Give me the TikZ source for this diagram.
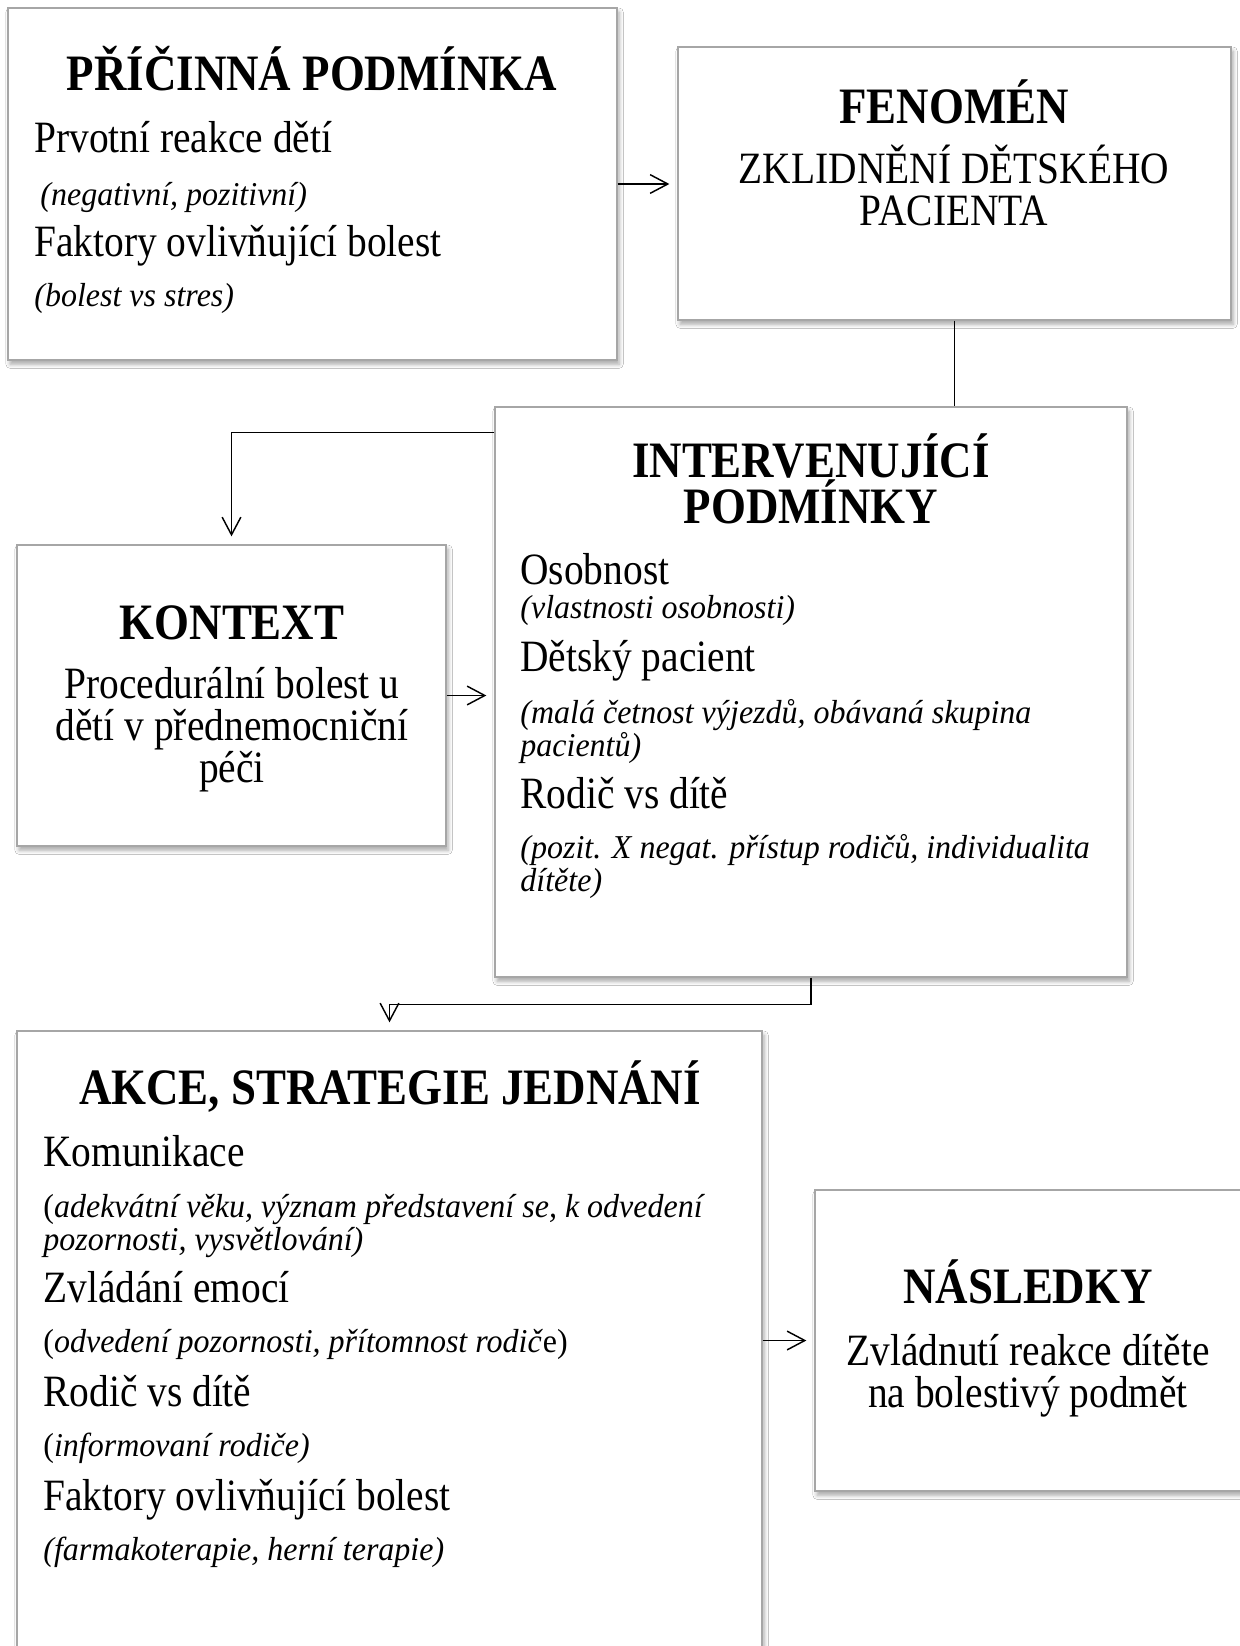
\documentclass[tikz,border=0pt]{standalone}
\usepackage{fontspec}
\setmainfont{Liberation Serif}[FakeStretch=0.88]
\newfontfamily\notefont{Liberation Serif}[FakeStretch=0.96]
\usetikzlibrary{arrows.meta,fit,shadows.blur}

\begin{document}
\begin{tikzpicture}[x=0.48pt, y=-0.48pt,
  box/.style={draw=gray!70, line width=0.7pt, fill=white, inner sep=0pt,
    blur shadow={shadow xshift=1pt, shadow yshift=-2pt, shadow blur radius=2pt, shadow opacity=35}},
  head/.style={font=\bfseries\fontsize{24.5}{26}\selectfont, inner sep=0pt, anchor=base},
  line/.style={font=\fontsize{21.5}{23}\selectfont, inner sep=0pt},
  note/.style={font=\notefont\itshape\fontsize{16}{17}\selectfont, inner sep=0pt, anchor=base west},
  arr/.style={-{Straight Barb[length=8.5pt, width=9pt]}, line width=0.7pt, shorten >=3.8pt}]
\useasboundingbox[fill=white] (0,0) rectangle (1240,1646);
% boxes
\node[box, fit={(8,8) (617,360)}] (b1) {};
\node[box, fit={(678,47) (1231,320)}] (b2) {};
\node[box, fit={(495,407) (1127,977)}] (b3) {};
\node[box, fit={(17,545) (446,846)}] (b4) {};
\node[box, fit={(17,1031) (762,1664)}] (b5) {};
\node[box, fit={(815,1190) (1264,1491)}] (b6) {};
% pricinna podminka
\node[head] (b1t) at (312,91) {PŘÍČINNÁ PODMÍNKA};
\node[line, anchor=base west] (b1a) at (34,152) {Prvotní reakce dětí};
\node[note] (b1b) at (40,205) {(negativní, pozitivní)};
\node[line, anchor=base west] (b1c) at (34,256) {Faktory ovlivňující bolest};
\node[note] (b1d) at (34,306) {(bolest vs stres)};
% fenomen
\node[head] (b2t) at (954,123) {FENOMÉN};
\node[line, anchor=base] (b2a) at (954,183) {ZKLIDNĚNÍ DĚTSKÉHO};
\node[line, anchor=base] (b2b) at (954,225) {PACIENTA};
% intervenujici podminky
\node[head] (b3t) at (811,477) {INTERVENUJÍCÍ};
\node[head] (b3u) at (811,523) {PODMÍNKY};
\node[line, anchor=base west] (b3a) at (520,584) {Osobnost};
\node[note] (b3b) at (520,618) {(vlastnosti osobnosti)};
\node[line, anchor=base west] (b3c) at (520,671) {Dětský pacient};
\node[note] (b3d) at (520,723) {(malá četnost výjezdů, obávaná skupina};
\node[note] (b3e) at (520,756) {pacientů)};
\node[line, anchor=base west] (b3f) at (520,808) {Rodič vs dítě};
\node[note] (b3g) at (520,858) {(pozit. X negat. přístup rodičů, individualita};
\node[note] (b3h) at (520,891) {dítěte)};
% kontext
\node[head] (b4t) at (232,639) {KONTEXT};
\node[line, anchor=base] (b4a) at (232,698) {Procedurální bolest u};
\node[line, anchor=base] (b4b) at (232,740) {dětí v přednemocniční};
\node[line, anchor=base] (b4c) at (232,782) {péči};
% akce
\node[head] (b5t) at (390,1104) {AKCE, STRATEGIE JEDNÁNÍ};
\node[line, anchor=base west] (b5a) at (43,1166) {Komunikace};
\node[note] (b5b) at (43,1217) {\textup{(}adekvátní věku, význam představení se, k odvedení};
\node[note] (b5c) at (43,1250) {pozornosti, vysvětlování)};
\node[line, anchor=base west] (b5d) at (43,1302) {Zvládání emocí};
\node[note] (b5e) at (43,1352) {\textup{(}odvedení pozornosti, přítomnost rodič\textup{e)}};
\node[line, anchor=base west] (b5f) at (43,1406) {Rodič vs dítě};
\node[note] (b5g) at (43,1456) {\textup{(}informovaní rodiče)};
\node[line, anchor=base west] (b5h) at (43,1510) {Faktory ovlivňující bolest};
\node[note] (b5i) at (43,1560) {(farmakoterapie, herní terapie)};
% nasledky
\node[head] (b6t) at (1028,1303) {NÁSLEDKY};
\node[line, anchor=base] (b6a) at (1028,1365) {Zvládnutí reakce dítěte};
\node[line, anchor=base] (b6b) at (1028,1407) {na bolestivý podmět};
% connectors
\draw[arr] (b1.east) -- (b1.east -| b2.west);
\draw[line width=0.7pt] (b2.south) -- (b2.south |- b3.north);
\draw[arr] ([yshift=-12.5pt]b3.north west) -| (b4.north);
\draw[arr] (b4.east) -- (b4.east -| b3.west);
\draw[arr] (b3.south) -- ++(0,27) -| (b5.north);
\draw[arr] (b6.west -| b5.east) -- (b6.west);
\end{tikzpicture}
\end{document}
